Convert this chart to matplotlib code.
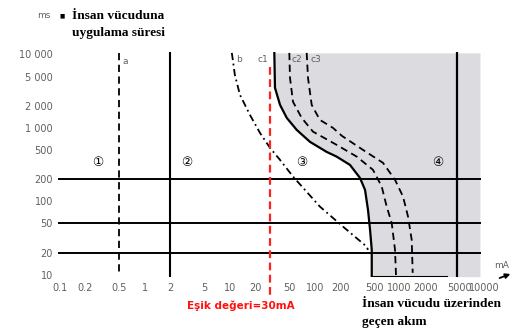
import matplotlib
matplotlib.use("Agg")
import matplotlib.pyplot as plt

# data (current in mA, time in ms)
line_a_ma = 0.5
line_b2_ma = 2
threshold_ma = 30
right_line_ma = 4700
time_lines_ms = [200, 50, 20]

curve_b_ma = [10.6, 11.5, 13.2, 17.3, 22.7, 29.8, 39.1, 55.6, 115, 215, 409, 424]
curve_b_ms = [10500, 5270, 2815, 1504, 855, 534, 366, 217, 84.7, 45.2, 24.1, 21.8]

c1_ma = [33.5, 34.1, 39.1, 46.9, 61.4, 88, 138, 181, 260, 341, 391, 424, 448, 469, 469]
c1_ms = [10500, 3510, 2057, 1368, 939, 645, 471, 406, 313, 208, 143, 76, 40.8, 21.8, 9.4]

c2_ma = [50.3, 51.2, 55.6, 70.3, 95.5, 181, 312, 485, 614, 703, 805, 881, 906]
c2_ms = [10500, 4800, 2260, 1368, 888, 587, 406, 268, 159, 84.7, 50.8, 21.8, 9.4]

c3_ma = [80.5, 83.4, 92.2, 115, 164, 209, 370, 636, 881, 1094, 1253, 1384, 1422]
c3_ms = [10500, 4800, 2057, 1285, 1000, 778, 501, 334, 196, 116, 61.9, 29.8, 10.6]

bottom_line_ma = [469, 3600]
bottom_line_ms = [9.4, 9.4]

x_ticks = [0.1, 0.2, 0.5, 1, 2, 5, 10, 20, 50, 100, 200, 500, 1000, 2000, 5000, 10000]
x_labels = ["0.1", "0.2", "0.5", "1", "2", "5", "10", "20", "50", "100", "200",
            "500", "1000", "2000", "5000", "10000"]
y_ticks = [10, 20, 50, 100, 200, 500, 1000, 2000, 5000, 10000]
y_labels = ["10", "20", "50", "100", "200", "500", "1 000", "2 000", "5 000", "10 000"]

zone_labels = ["①", "②", "③", "④"]
curve_labels = ["a", "b", "c1", "c2", "c3"]

W, H = 515, 335


def fx(x):
    return x / W


def fy(y):
    return 1 - y / H


fig = plt.figure(figsize=(W / 100, H / 100), dpi=100)
ax = fig.add_axes([57.8 / W, (H - 277) / H, 428.7 / W, 225 / H])
ax.set_xscale("log")
ax.set_yscale("log")
ax.set_xlim(0.095, 10500)
ax.set_ylim(9.3, 10800)
x_right = 8800

# shaded zone right of c1
ax.fill_betweenx(c1_ms, c1_ma, x_right, color="#dcdbdf", lw=0, zorder=0)

for t in time_lines_ms:
    ax.plot([0.095, x_right], [t, t], color="black", lw=1.4)

ax.plot([line_a_ma, line_a_ma], [10500, 10.6], color="black", lw=1.3, ls=(0, (4, 2.5)))
ax.plot([line_b2_ma, line_b2_ma], [10500, 9.3], color="black", lw=1.5)
ax.plot([right_line_ma, right_line_ma], [10800, 9.3], color="black", lw=1.6)

ax.plot(curve_b_ma, curve_b_ms, color="black", lw=1.3, ls=(0, (4, 2, 1, 2)))
ax.plot(c1_ma, c1_ms, color="black", lw=1.6)
ax.plot(c2_ma, c2_ms, color="black", lw=1.3, ls=(0, (4, 2.5)))
ax.plot(c3_ma, c3_ms, color="black", lw=1.3, ls=(0, (4, 2.5)))
ax.plot(bottom_line_ma, bottom_line_ms, color="black", lw=1.5)

ax.plot([threshold_ma, threshold_ma], [6840, 5.3], color="#ff2020", lw=1.6,
        ls=(0, (3.5, 2)), clip_on=False)

for s in ax.spines.values():
    s.set_visible(False)
ax.set_xticks(x_ticks)
ax.set_xticklabels(x_labels)
ax.set_yticks(y_ticks)
ax.set_yticklabels(y_labels)
ax.minorticks_off()
ax.tick_params(length=0, labelsize=7, labelcolor="#606060")
ax.tick_params(axis="y", pad=3.5)
ax.tick_params(axis="x", pad=4)

# labels on the curves
gray = "#606060"
for lab, (x, y) in zip(curve_labels, [(125, 62), (239, 60), (263, 60), (297, 60), (316, 60)]):
    fig.text(fx(x), fy(y), lab, fontsize=6.5, color=gray, ha="center", va="center")

for lab, (x, y) in zip(zone_labels, [(98, 163), (187, 163), (302, 163), (438, 163)]):
    fig.text(fx(x), fy(y), lab, fontsize=9, color="black", ha="center", va="center",
             family=["DejaVu Sans", "Noto Sans CJK SC"])

serif = dict(family="Liberation Serif", fontweight="bold", fontsize=9.6, color="black")
fig.text(fx(44), fy(16), "ms", fontsize=6.5, color=gray, ha="center", va="center")
fig.text(fx(62), fy(16), "■", fontsize=4, color="black", ha="center", va="center")
fig.text(fx(72), fy(16), "İnsan vücuduna", ha="left", va="center", **serif)
fig.text(fx(72), fy(33), "uygulama süresi", ha="left", va="center", **serif)

fig.text(fx(362), fy(304), "İnsan vücudu üzerinden", ha="left", va="center", **serif)
fig.text(fx(362), fy(322), "geçen akım", ha="left", va="center", **serif)

fig.text(fx(241), fy(306), "Eşik değeri=30mA", ha="center", va="center",
         fontsize=7.5, fontweight="bold", color="#ff1010")

fig.text(fx(502), fy(266), "mA", fontsize=6.5, color=gray, ha="center", va="center")
ax.annotate("", xy=(fx(513), fy(273)), xytext=(fx(497), fy(279)),
            xycoords="figure fraction", textcoords="figure fraction",
            arrowprops=dict(arrowstyle="-|>", color="black", lw=1.3, mutation_scale=7))

fig.savefig("out.png", dpi=100)
